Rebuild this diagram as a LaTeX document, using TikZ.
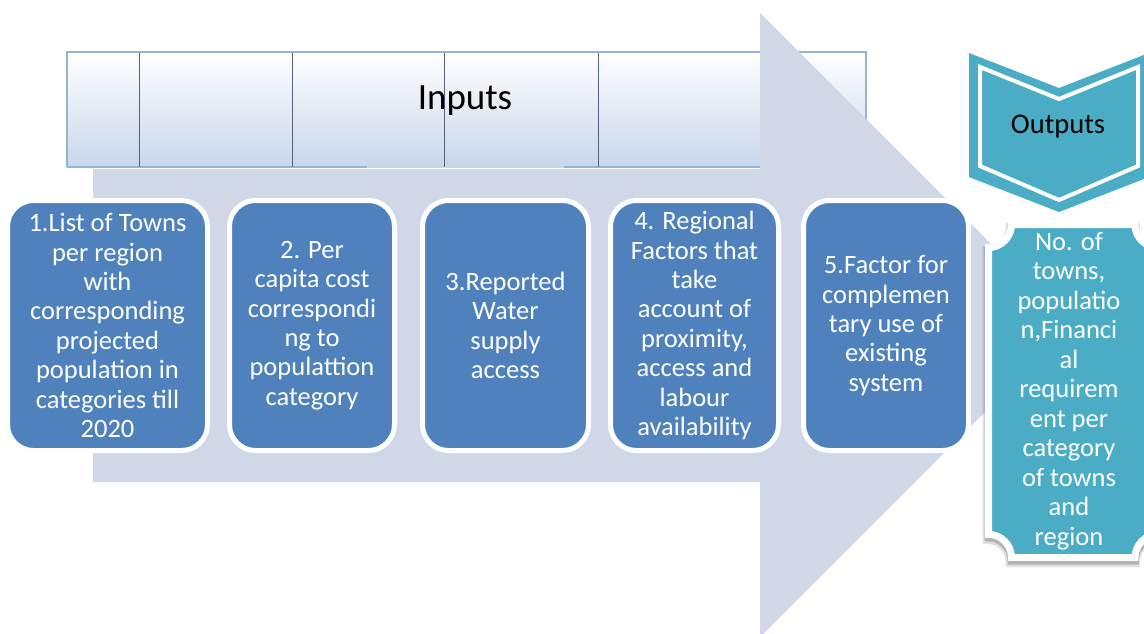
\documentclass[tikz,border=0pt]{standalone}
\usepackage{fontspec}
\setmainfont{Carlito}
\definecolor{arrowgray}{RGB}{208,216,232}
\definecolor{boxblue}{RGB}{79,129,189}
\definecolor{outteal}{RGB}{75,172,198}
\definecolor{bannerline}{RGB}{149,179,215}
\definecolor{bannerlow}{RGB}{200,214,234}
\definecolor{tickline}{RGB}{84,98,122}
\newcommand{\plaquepath}{(1011.5, 224.5) -- (1135, 224.5) arc[start angle = 180, end angle = 270, radius = 23pt]
	-- (1158, 534.5) arc[start angle = 90, end angle = 180, radius = 23pt]
	-- (1011.5, 557.5) arc[start angle = 0, end angle = 90, radius = 23pt]
	-- (988.5, 247.5) arc[start angle = 270, end angle = 360, radius = 23pt] -- cycle}
\begin{document}
\begin{tikzpicture}[x = 1pt, y = -1pt,
		inbox/.style = {draw = white, line width = 5pt, fill = boxblue, rounded corners = 26pt, text = white, align = center, inner sep = 0pt, minimum height = 250pt, font = \fontsize{26.5}{29.4}\selectfont},
		outtext/.style = {text = white, align = center, inner sep = 0pt, font = \fontsize{26.5}{29.5}\selectfont}]
		\useasboundingbox (0, 0) rectangle (1144, 633);
		%%%%%%%%%%%%%
		\shade[top color = white, bottom color = bannerlow] (67, 52) rectangle (866, 167);
		\draw[bannerline, line width = 1.5pt] (67, 167) -- (67, 52) -- (866, 52) -- (866, 167);
		\draw[bannerline, line width = 1.5pt] (67, 167) -- (367, 167);
		\draw[bannerline, line width = 1.5pt] (564, 167) -- (866, 167);
		\foreach \x in {139, 292, 444, 598} \draw[tickline, line width = 0.6pt] (\x, 53) -- (\x, 167);
		\node[anchor = base, font = \fontsize{37}{40}\selectfont] (inputs) at (465, 109) {Inputs};
		%%%%%%%%%%%%%
		\fill[arrowgray] (93, 169) -- (760, 169) -- (760, 13) -- (1072, 325) -- (760, 637) -- (760, 482) -- (93, 482) -- cycle;
		%%%%%%%%%%%%%
		\node[inbox, minimum width = 200pt] (a) at (107.5, 325.5) {1.List of Towns\\per region\\with\\corresponding\\projected\\population in\\categories till\\2020};
		\node[inbox, minimum width = 165pt] (b) at (312, 325.5) {2. Per\\capita cost\\correspondi\\ng to\\populattion\\category};
		\node[inbox, minimum width = 166pt] (c) at (505.5, 325.5) {3.Reported\\Water\\supply\\access};
		\node[inbox, minimum width = 168pt] (d) at (694.5, 325.5) {4. Regional\\Factors that\\take\\account of\\proximity,\\access and\\labour\\availability};
		\node[inbox, minimum width = 165pt] (e) at (886, 325.5) {5.Factor for\\complemen\\tary use of\\existing\\system};
		%%%%%%%%%%%%%
		\fill[outteal] (969, 53) -- (1059, 88) -- (1149, 53) -- (1149, 177) -- (1059, 212) -- (969, 177) -- cycle;
		\draw[white, line width = 4pt] (980, 67) -- (1059, 99) -- (1138, 67) -- (1138, 166) -- (1059, 200) -- (980, 166) -- cycle;
		\node[anchor = base, font = \fontsize{28.5}{32}\selectfont] (outputs) at (1058, 133) {Outputs};
		%%%%%%%%%%%%%
		\draw[black, fill = black, opacity = 0.12, line width = 11pt, shift = {(-0.5, 4)}] \plaquepath;
		\draw[black, fill = black, opacity = 0.2, line width = 8pt, shift = {(0, 3)}] \plaquepath;
		\draw[white, line width = 7pt, fill = outteal] \plaquepath;
		\node[outtext] (f) at (1069, 391) {No. of\\towns,\\populatio\\n,Financi\\al\\requirem\\ent per\\category\\of towns\\and\\region};
		%%%%%%%%%%%%%%
	\end{tikzpicture}
\end{document}
